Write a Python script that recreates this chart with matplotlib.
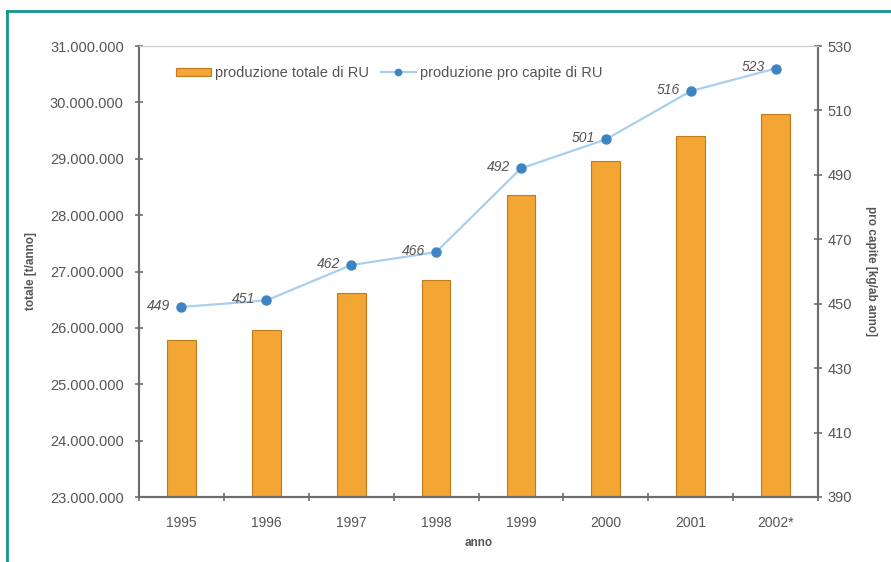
import matplotlib
matplotlib.use("Agg")
import matplotlib.pyplot as plt
from matplotlib.lines import Line2D
from matplotlib.ticker import FuncFormatter, MultipleLocator
import numpy as np

plt.rcParams['font.family'] = ['Liberation Sans', 'DejaVu Sans']

years = ["1995", "1996", "1997", "1998", "1999", "2000", "2001", "2002*"]
totale = [25780000, 25960000, 26610000, 26850000, 28360000, 28960000, 29410000, 29800000]
pro_capite = [449, 451, 462, 466, 492, 501, 516, 523]
right_ticks = [390, 410, 430, 450, 470, 490, 510, 530]

bar_color = "#F4A634"
bar_edge = "#C07A1C"
line_color = "#A9CFEF"
marker_color = "#3F84C2"
text_color = "#555555"
spine_color = "#6E6E6E"
teal = "#13948A"

fig = plt.figure(figsize=(8.91, 5.62), dpi=100)
ax = fig.add_axes([139/891, 1-497/562, (818-139)/891, (497-46)/562])
ax2 = ax.twinx()

x = np.arange(len(years))
ax.bar(x, totale, width=0.34, color=bar_color, edgecolor=bar_edge, linewidth=0.8,
       label="produzione totale di RU", zorder=2)
ax.set_xlim(-0.5, len(years) - 0.5)
ax.set_ylim(23000000, 31000000)
ax.yaxis.set_major_locator(MultipleLocator(1000000))
ax.yaxis.set_major_formatter(FuncFormatter(lambda v, p: f"{int(v):,}".replace(",", ".")))
ax.set_xticks(x)
ax.set_xticklabels(years)
ax.set_xticks(np.arange(-0.5, len(years)), minor=True)
ax.tick_params(axis='x', which='major', length=0, pad=14, labelsize=10, labelcolor=text_color)
ax.tick_params(axis='x', which='minor', length=6, direction='inout', color=spine_color, width=1.2)
ax.tick_params(axis='y', length=6, direction='inout', color=spine_color, width=1.2,
               labelsize=10.5, labelcolor=text_color, pad=8)

ln, = ax2.plot(x, pro_capite, color=line_color, linewidth=1.6, marker='o', markersize=6.5,
               markerfacecolor=marker_color, markeredgecolor=marker_color,
               label="produzione pro capite di RU", zorder=3)
ax2.set_ylim(390, 530)
ax2.set_yticks(right_ticks)
ax2.tick_params(axis='y', length=6, direction='inout', color=spine_color, width=1.2,
                labelsize=10.5, labelcolor=text_color, pad=4)
for xi, v in zip(x, pro_capite):
    ax2.annotate(str(v), (xi, v), xytext=(-8, 1), textcoords='offset points',
                 ha='right', va='center', fontsize=10, style='italic', color=text_color)

for a in (ax, ax2):
    a.spines['top'].set_color("#CFCFCF")
    a.spines['left'].set_color(spine_color)
    a.spines['right'].set_color(spine_color)
    a.spines['bottom'].set_color(spine_color)
    for s in ('left', 'right', 'bottom'):
        a.spines[s].set_linewidth(1.5)

ax.set_ylabel("totale [t/anno]", fontsize=8.5, fontweight='bold', color=text_color, labelpad=9)
ax2.set_ylabel("pro capite [kg/ab anno]", fontsize=8.5, fontweight='bold', color=text_color,
               rotation=270, labelpad=18)
ax.set_xlabel("anno", fontsize=8.5, fontweight='bold', color=text_color, labelpad=5)

handles = [ax.patches[0], ln]
labels = ["produzione totale di RU", "produzione pro capite di RU"]
leg = ax.legend(handles, labels, loc='upper left', bbox_to_anchor=(0.035, 0.985), ncol=2,
                frameon=False, fontsize=10.5, handlelength=2.4, handleheight=0.5,
                columnspacing=0.8, handletextpad=0.3, markerscale=0.7)
for t in leg.get_texts():
    t.set_color(text_color)

fig.add_artist(Line2D([7/891, 1], [1-11/562, 1-11/562], color=teal, linewidth=2,
                      transform=fig.transFigure))
fig.add_artist(Line2D([7/891, 7/891], [0, 1-11/562], color=teal, linewidth=2,
                      transform=fig.transFigure))

fig.savefig("out.png", dpi=100)
